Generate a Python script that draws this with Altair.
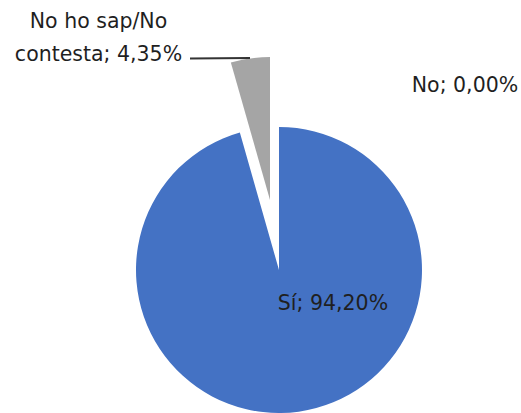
import altair as alt
import pandas as pd

categories = ["Sí", "No", "No ho sap/No contesta"]
values = [94.20, 0.00, 4.35]
label_lines = ["Sí; 94,20%", "No; 0,00%", "No ho sap/No\ncontesta; 4,35%"]

df = pd.DataFrame({
    "cat": categories,
    "value": values,
    "idx": list(range(len(categories))),
    "label": label_lines,
})

BLUE = "#4472C4"
GRAY = "#A5A5A5"
R = 143
CX, CY = 279, 270
EX, EY = 270, 200  # exploded slice centre

base = alt.Chart(df)

def pie_layer(show_idx, color, cx, cy):
    return base.mark_arc(outerRadius=R, strokeWidth=0).encode(
        theta=alt.Theta("value:Q", stack=True),
        order=alt.Order("idx:O"),
        color=alt.condition(alt.datum.idx == show_idx, alt.value(color), alt.value("transparent")),
        x=alt.value(cx),
        y=alt.value(cy),
    )

blue = pie_layer(0, BLUE, CX, CY)
gray = pie_layer(2, GRAY, EX, EY)

leader = base.transform_filter(alt.datum.idx == 2).mark_rule(color="#333333", strokeWidth=2).encode(
    x=alt.value(190), x2=alt.value(250), y=alt.value(58.5), y2=alt.value(58)
)

font = "DejaVu Sans"
tc = "#1f1f1f"

def label(i, x, y, align="center"):
    return base.transform_filter(alt.datum.idx == i).mark_text(
        font=font, fontSize=20.5, color=tc, align=align, baseline="alphabetic",
        lineBreak="\n", lineHeight=33,
    ).encode(text="label:N", x=alt.value(x), y=alt.value(y))

t_si = label(0, 333, 310)
t_no = label(1, 465, 92)
t_ns = label(2, 98.5, 28)

chart = alt.layer(blue, gray, leader, t_si, t_no, t_ns).properties(
    width=521, height=413, padding=0, autosize="none"
).configure_view(stroke=None)

chart.save("out.html", embed_options={"renderer": "svg", "actions": False})
